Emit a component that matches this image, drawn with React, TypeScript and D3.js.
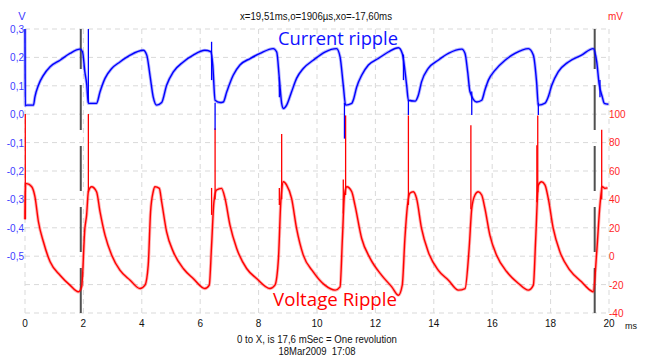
import React from "react";
import * as d3 from "d3";

const W = 646;
const H = 358;

// time ticks (ms)
const xTicks = [0, 2, 4, 6, 8, 10, 12, 14, 16, 18, 20];
// left axis (V)
const vGrid = [0.3, 0.2, 0.1, 0.0, -0.1, -0.2, -0.3, -0.4, -0.5, -0.6, -0.7];
const vLabels = ["0,3", "0,2", "0,1", "0,0", "-0,1", "-0,2", "-0,3", "-0,4", "-0,5"];
const vLabelValues = [0.3, 0.2, 0.1, 0.0, -0.1, -0.2, -0.3, -0.4, -0.5];
// right axis (mV)
const mvTicks = [100, 80, 60, 40, 20, 0, -20, -40];

// cursors (ms)
const cursorTimes = [1.91, 19.51];

// current ripple trace [ms, V]
const currentTrace: [number, number][] = [
  [0, 0.30], [0.01, 0.03], [0.06, 0.032], [0.29, 0.032], [0.34, 0.061], [0.46, 0.102], [0.63, 0.137],
  [0.86, 0.167], [1.2, 0.19], [1.54, 0.214], [1.88, 0.229], [1.97, 0.22], [2.05, 0.149], [2.11, 0.108],
  [2.17, 0.038], [2.45, 0.038], [2.57, 0.079], [2.74, 0.126], [2.97, 0.161], [3.25, 0.184], [3.6, 0.208],
  [4.05, 0.225], [4.17, 0.208], [4.28, 0.137], [4.39, 0.061], [4.51, 0.032], [4.68, 0.041], [4.85, 0.102],
  [5.08, 0.149], [5.42, 0.184], [5.76, 0.208], [6.16, 0.225], [6.36, 0.22], [6.43, 0.173], [6.51, 0.049],
  [6.68, 0.041], [6.79, 0.043], [6.91, 0.079], [7.13, 0.137], [7.36, 0.173], [7.71, 0.196], [8.05, 0.214],
  [8.5, 0.231], [8.62, 0.219], [8.71, 0.126], [8.79, 0.038], [8.85, 0.02], [8.96, 0.032], [9.13, 0.079],
  [9.3, 0.126], [9.53, 0.161], [9.87, 0.19], [10.27, 0.219], [10.67, 0.231], [10.79, 0.202], [10.9, 0.102],
  [10.98, 0.032], [11.19, 0.038], [11.24, 0.049], [11.36, 0.096], [11.53, 0.137], [11.76, 0.173],
  [12.1, 0.196], [12.44, 0.219], [12.79, 0.234], [12.92, 0.214], [13.07, 0.102], [13.13, 0.049],
  [13.36, 0.046], [13.47, 0.067], [13.58, 0.114], [13.81, 0.161], [14.15, 0.19], [14.5, 0.214],
  [14.96, 0.229], [15.07, 0.214], [15.16, 0.149], [15.24, 0.079], [15.47, 0.043], [15.64, 0.049],
  [15.75, 0.085], [15.87, 0.12], [16.1, 0.155], [16.44, 0.19], [16.78, 0.214], [17.24, 0.231],
  [17.41, 0.208], [17.52, 0.114], [17.58, 0.032], [17.81, 0.039], [17.92, 0.061], [18.04, 0.102],
  [18.26, 0.149], [18.61, 0.184], [19.06, 0.208], [19.46, 0.231], [19.58, 0.184], [19.66, 0.108],
  [19.77, 0.061], [19.84, 0.038], [19.98, 0.035],
];

// voltage ripple trace [ms, mV]
const voltageTrace: [number, number][] = [
  [0, 26], [0.02, 51], [0.06, 51], [0.23, 48.8], [0.34, 41.8], [0.46, 24.2], [0.63, 10.1], [0.86, -4],
  [1.2, -13.4], [1.54, -20.4], [1.83, -25.1], [1.94, -21.6], [2.05, 19.5], [2.11, 28.9], [2.17, 45.3],
  [2.28, 48.8], [2.45, 45.3], [2.57, 31.2], [2.74, 14.8], [2.97, 0.7], [3.25, -9.9], [3.6, -16.9],
  [3.94, -22.8], [4.11, -20.4], [4.22, -6.3], [4.3, 31.2], [4.39, 45.3], [4.45, 48.8], [4.6, 47.7],
  [4.68, 38.2], [4.85, 17.1], [5.08, 3], [5.42, -8.7], [5.76, -15.7], [6.16, -22.8], [6.31, -20.4],
  [6.39, 7.7], [6.47, 38.2], [6.56, 46.5], [6.73, 47.7], [6.85, 40.6], [7.02, 21.8], [7.25, 5.4],
  [7.59, -8.7], [7.93, -15.7], [8.39, -22.8], [8.56, -20.4], [8.68, -1.6], [8.76, 38.2], [8.85, 52.3],
  [8.96, 50], [9.13, 40.6], [9.3, 19.5], [9.53, 0.7], [9.87, -11], [10.27, -20.4], [10.62, -23.9],
  [10.79, -21.6], [10.87, 12.4], [10.94, 43], [11.02, 48.8], [11.19, 45.3], [11.3, 35.9], [11.53, 12.4],
  [11.82, -1.6], [12.21, -13.4], [12.56, -21.6], [12.79, -27.5], [12.92, -20.4], [13.01, 12.4],
  [13.1, 35.9], [13.18, 44.2], [13.3, 45.3], [13.41, 40.6], [13.58, 19.5], [13.81, 3], [14.15, -9.9],
  [14.5, -16.9], [14.84, -23.9], [15.07, -22.8], [15.21, 5.4], [15.3, 33.6], [15.41, 43], [15.52, 45.3],
  [15.64, 43], [15.75, 33.6], [15.92, 14.8], [16.15, 0.7], [16.5, -11], [16.9, -19.2], [17.24, -23.9],
  [17.41, -20.4], [17.49, 12.4], [17.58, 50], [17.69, 52.3], [17.81, 50], [17.92, 40.6], [18.09, 19.5],
  [18.32, 3], [18.66, -9.9], [19.06, -18.1], [19.35, -23.9], [19.46, -25.1], [19.58, 3], [19.69, 35.9],
  [19.77, 48.8], [19.86, 47.7], [19.95, 48],
];

// switching spikes [ms, from, to]
const currentSpikes: [number, number, number][] = [
  [2.17, 0.30, 0.04], [6.39, 0.255, 0.12], [6.51, 0.04, -0.056], [8.71, 0.13, 0.06],
  [10.94, 0.04, -0.086], [12.96, 0.21, 0.12], [13.13, 0.05, -0.003], [15.3, 0.08, -0.003],
  [17.58, 0.04, -0.003], [19.69, 0.12, 0.06],
];
const voltageSpikes: [number, number, number][] = [
  [0.01, 100, 26], [2.17, 100, 45], [6.39, 48, 29], [6.51, 90, 40], [8.71, 48, 36], [8.79, 86, 40],
  [10.9, 54, 30], [10.98, 99, 43], [13.13, 99, 36], [15.27, 92, 33], [17.53, 78, 38], [17.56, 99, 45],
  [19.75, 89, 40],
];

const titleText = "x=19,51ms,o=1906µs,xo=-17,60ms";
const footer1 = "0 to X, is 17,6 mSec = One revolution";
const footer2 = "18Mar2009\u00a0\u00a017:08";

export default function App() {
  const x = d3.scaleLinear().domain([0, 20]).range([25, 609]);
  const yV = d3.scaleLinear().domain([-0.7, 0.3]).range([313, 29]);
  const yMV = d3.scaleLinear().domain([-40, 100]).range([313, 114]);

  const lineV = d3
    .line<[number, number]>()
    .x((d) => x(d[0]))
    .y((d) => yV(d[1]))
    .curve(d3.curveMonotoneX);
  const lineMV = d3
    .line<[number, number]>()
    .x((d) => x(d[0]))
    .y((d) => yMV(d[1]))
    .curve(d3.curveMonotoneX);

  const top = yV(0.3);
  const bottom = yV(-0.7);
  const gridColor = "#d9d9d9";
  const font = "'Liberation Sans', Arial, sans-serif";
  const blueLbl = "#3c3cff";
  const redLbl = "#ff2626";

  return (
    <svg
      width={W}
      height={H}
      style={{ position: "absolute", left: 0, top: 0, background: "#fff" }}
      fontFamily={font}
    >
      <rect width={W} height={H} fill="#fff" />
      {/* grid */}
      {vGrid.map((v) => (
        <line
          key={"h" + v}
          x1={x(0)}
          x2={x(20)}
          y1={yV(v)}
          y2={yV(v)}
          stroke={gridColor}
          strokeWidth={1}
          strokeDasharray="5,4"
        />
      ))}
      {xTicks.map((t) => (
        <line
          key={"v" + t}
          x1={x(t)}
          x2={x(t)}
          y1={top}
          y2={bottom}
          stroke={gridColor}
          strokeWidth={1}
          strokeDasharray="5,4"
        />
      ))}

      {/* cursors */}
      {cursorTimes.map((t) => (
        <line
          key={"c" + t}
          x1={x(t)}
          x2={x(t)}
          y1={bottom}
          y2={top}
          stroke="#505050"
          strokeWidth={2}
          strokeDasharray="45,16"
        />
      ))}

      {/* voltage trace */}
      <path d={lineMV(voltageTrace) || ""} fill="none" stroke="#ff0000" strokeOpacity={0.3} strokeWidth={3.2} />
      <path d={lineMV(voltageTrace) || ""} fill="none" stroke="#ff0000" strokeWidth={1.4} />
      {voltageSpikes.map((s, i) => (
        <line key={"vs" + i} x1={x(s[0])} x2={x(s[0])} y1={yMV(s[1])} y2={yMV(s[2])} stroke="#ff0000" strokeWidth={1.3} />
      ))}

      {/* current trace */}
      <path d={lineV(currentTrace) || ""} fill="none" stroke="#0000ff" strokeOpacity={0.3} strokeWidth={3.2} />
      <path d={lineV(currentTrace) || ""} fill="none" stroke="#0000ff" strokeWidth={1.4} />
      {currentSpikes.map((s, i) => (
        <line key={"cs" + i} x1={x(s[0])} x2={x(s[0])} y1={yV(s[1])} y2={yV(s[2])} stroke="#0000ff" strokeWidth={1.3} />
      ))}

      {/* left axis labels */}
      <text x={22} y={20} fontSize={11} fill={blueLbl} textAnchor="middle">V</text>
      {vLabelValues.map((v, i) => (
        <text key={"vl" + v} x={24} y={yV(v) + 4} fontSize={10} fill={blueLbl} textAnchor="end">
          {vLabels[i]}
        </text>
      ))}

      {/* right axis labels */}
      <text x={608} y={20} fontSize={10} fill={redLbl}>mV</text>
      {mvTicks.map((m) => (
        <text key={"ml" + m} x={609} y={yMV(m) + 4} fontSize={10} fill={redLbl}>
          {m}
        </text>
      ))}

      {/* x axis labels */}
      {xTicks.map((t) => (
        <text key={"xl" + t} x={x(t)} y={327} fontSize={10} fill="#111" textAnchor="middle">
          {t}
        </text>
      ))}
      <text x={625} y={329} fontSize={9} fill="#111">ms</text>

      {/* titles */}
      <text x={316} y={20} fontSize={10} fill="#111" textAnchor="middle" textLength={152} lengthAdjust="spacingAndGlyphs">
        {titleText}
      </text>
      <text x={278} y={45} fontSize={19} fill="#1010ff" fontFamily="'Open Sans', sans-serif" textLength={120} lengthAdjust="spacingAndGlyphs">
        Current ripple
      </text>
      <text x={273} y={306} fontSize={19} fill="#ff0000" fontFamily="'Open Sans', sans-serif" textLength={124} lengthAdjust="spacingAndGlyphs">
        Voltage Ripple
      </text>
      <text x={317} y={343} fontSize={10} fill="#111" textAnchor="middle" textLength={160} lengthAdjust="spacingAndGlyphs">
        {footer1}
      </text>
      <text x={317} y={355} fontSize={10} fill="#111" textAnchor="middle" textLength={77} lengthAdjust="spacingAndGlyphs">
        {footer2}
      </text>
    </svg>
  );
}
